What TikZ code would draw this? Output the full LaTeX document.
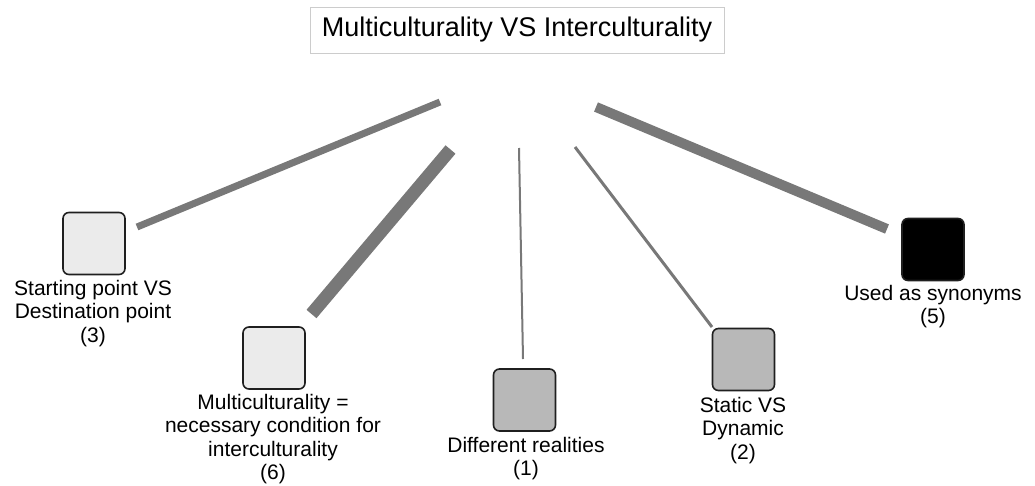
\documentclass[tikz,border=0pt]{standalone}
\usepackage{fontspec}
\setmainfont{Liberation Sans}
\begin{document}
\begin{tikzpicture}[x=1pt,y=-1pt,
  card/.style={draw=black!88, line width=1.6pt, rounded corners=6pt,
    minimum width=62pt, minimum height=62pt, inner sep=0pt},
  lightcard/.style={card, fill=black!8},
  midcard/.style={card, fill=black!28},
  darkcard/.style={card, fill=black},
  lbl/.style={align=center, inner sep=0pt, anchor=north,
    font=\fontsize{21}{23.3}\selectfont},
  link/.style={draw=black!53, line cap=butt}]
\useasboundingbox (0,0) rectangle (1035,485);

% title
\node[draw=black!20, line width=0.8pt, fill=white, minimum width=414pt,
  minimum height=46pt, font=\fontsize{27}{30}\selectfont] (title) at (517,30)
  {Multiculturality VS Interculturality};

% cards
\node[lightcard] (c3) at (94,243.5) {};
\node[lightcard] (c6) at (274,358) {};
\node[midcard]   (c1) at (524.5,400) {};
\node[midcard]   (c2) at (743.5,359.5) {};
\node[darkcard]  (c5) at (933,249.5) {};

% captions
\node[lbl] (t3) at (93,280) {Starting point VS\\Destination point\\(3)};
\node[lbl] (t6) at (273,394) {Multiculturality =\\necessary condition for\\interculturality\\(6)};
\node[lbl] (t1) at (526,437) {Different realities\\(1)};
\node[lbl] (t2) at (743,397) {Static VS\\Dynamic\\(2)};
\node[lbl] (t5) at (933,285) {Used as synonyms\\(5)};

% connector ends
\coordinate (a3) at (440,102);   \coordinate (b3) at (137,227);
\coordinate (a6) at (450.5,149.5); \coordinate (b6) at (311.5,314);
\coordinate (a1) at (519,148);   \coordinate (b1) at (523,359);
\coordinate (a2) at (575,147);   \coordinate (b2) at (712,327);
\coordinate (a5) at (596,107);   \coordinate (b5) at (887,229);

% connectors, width by weight
\draw[link, line width=7pt]  (a3) -- (b3);
\draw[link, line width=13pt] (a6) -- (b6);
\draw[link, line width=2pt]  (a1) -- (b1);
\draw[link, line width=3pt]  (a2) -- (b2);
\draw[link, line width=10pt] (a5) -- (b5);
\end{tikzpicture}
\end{document}
